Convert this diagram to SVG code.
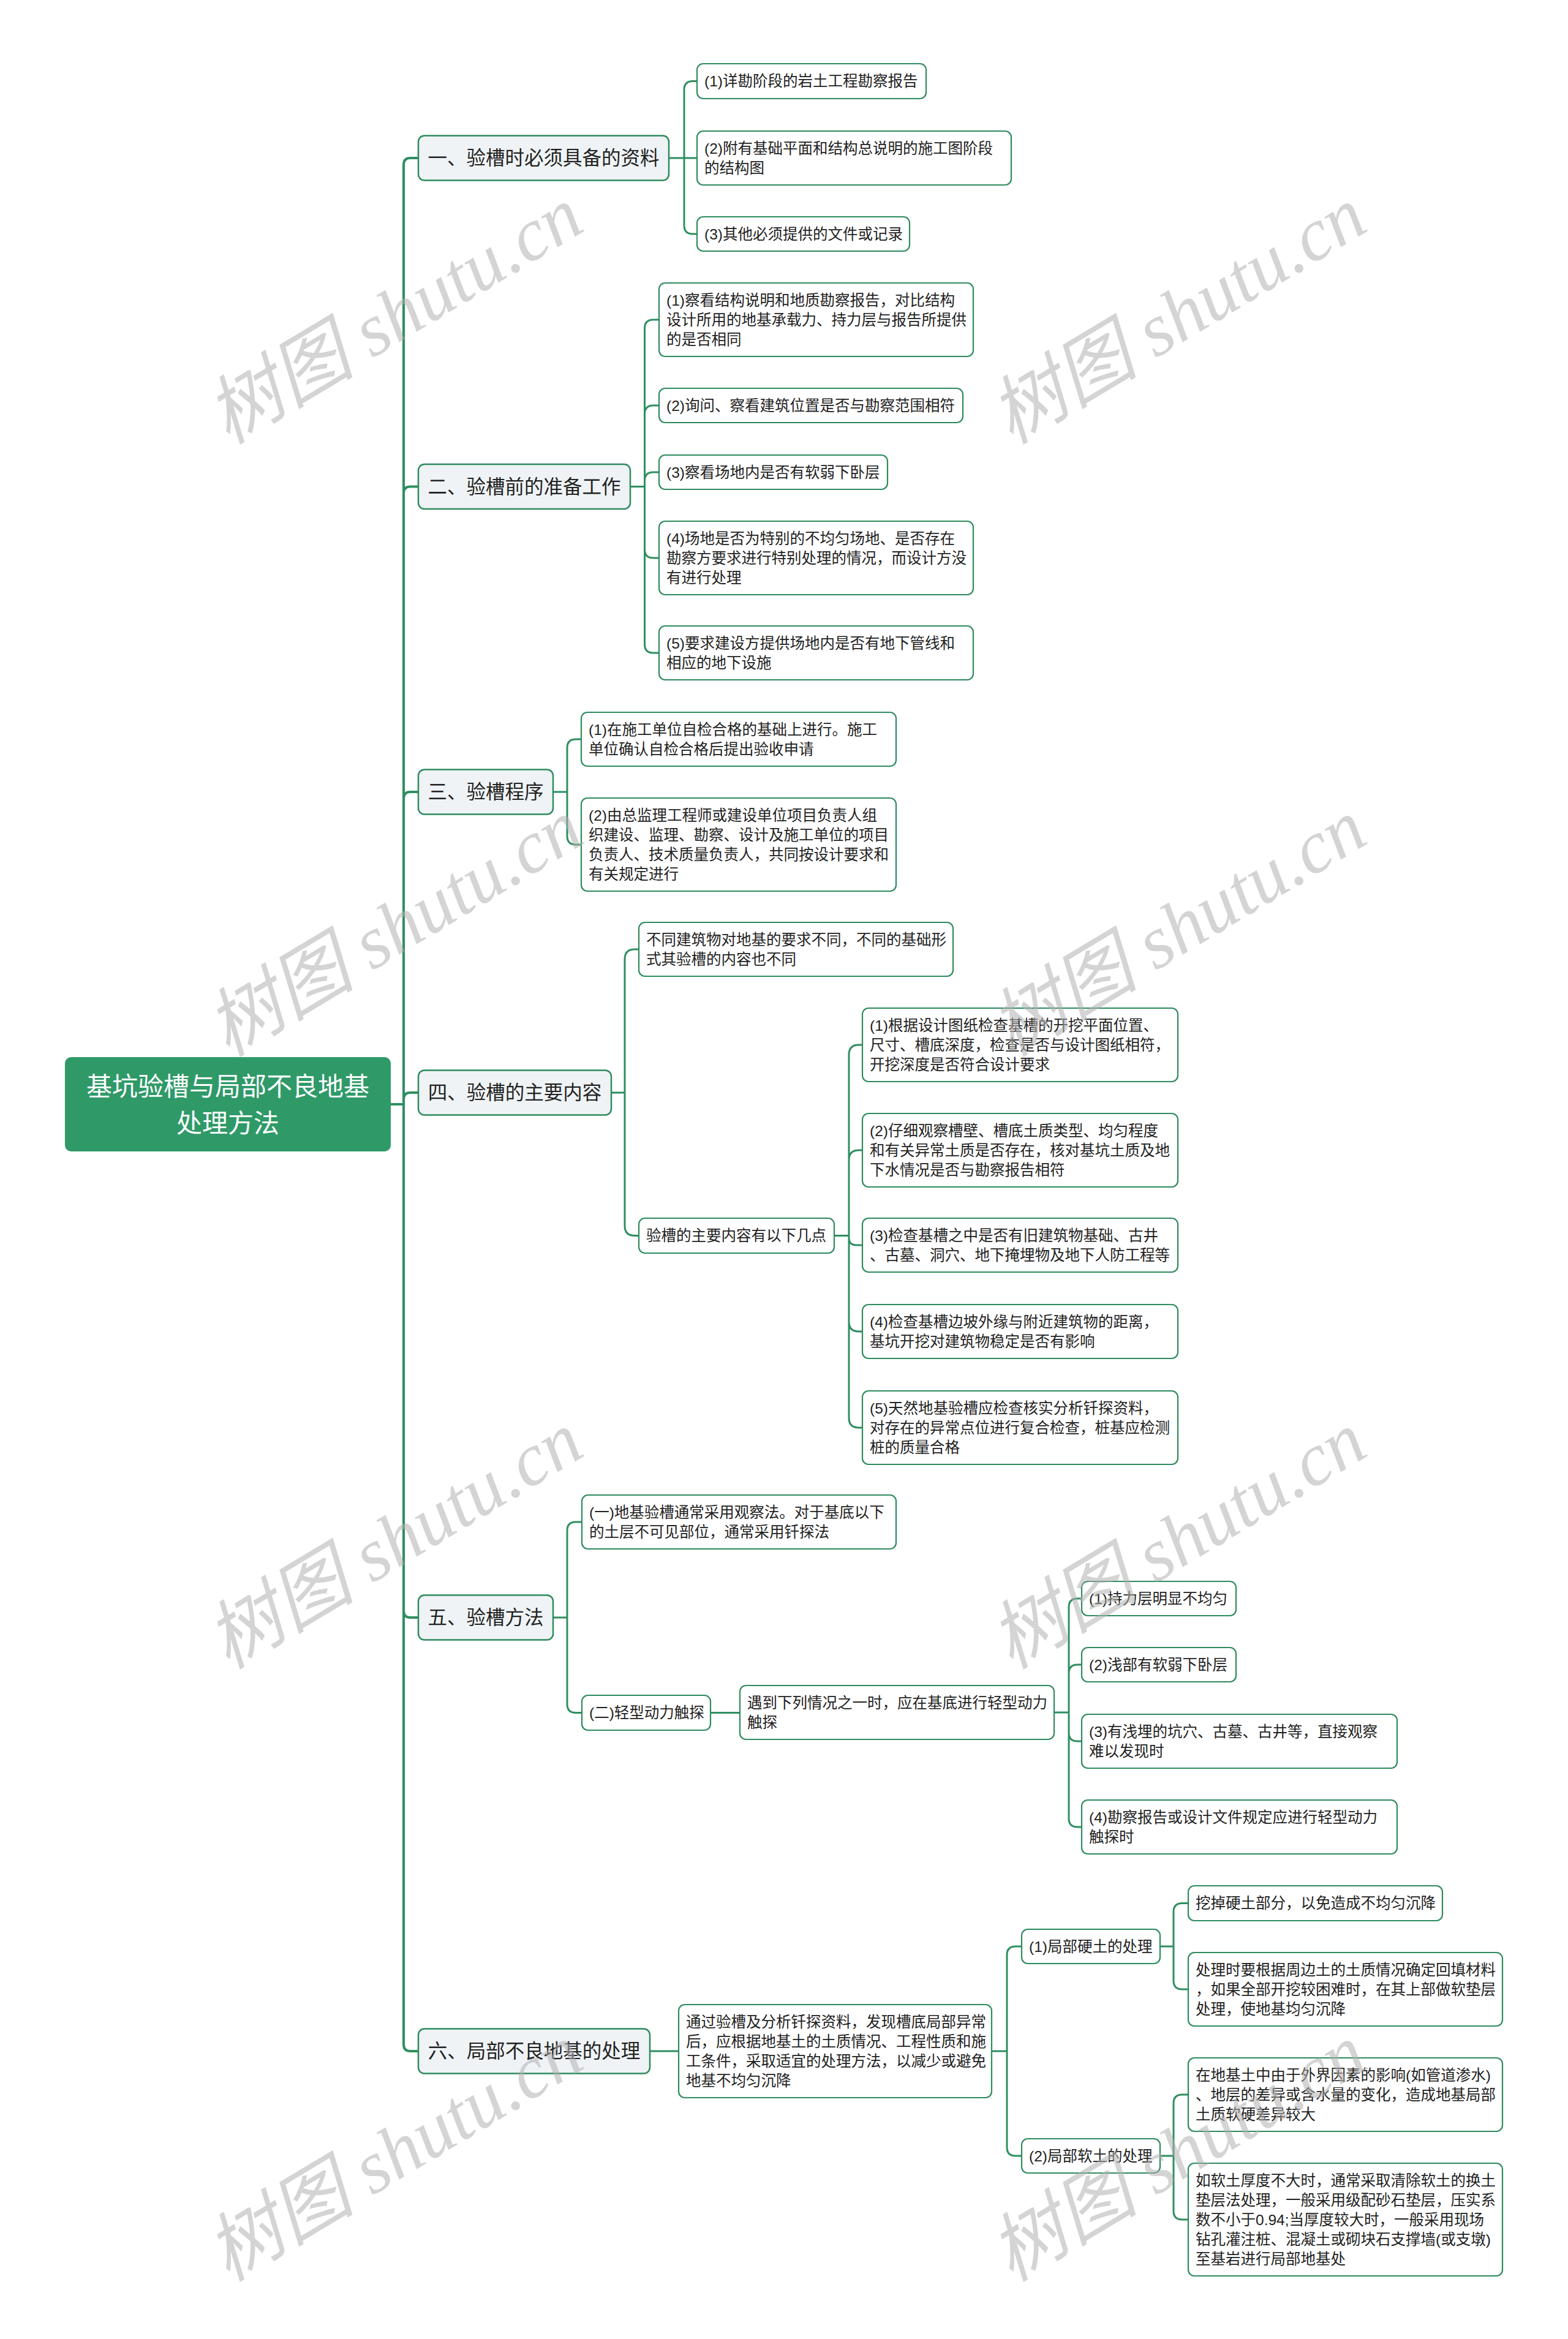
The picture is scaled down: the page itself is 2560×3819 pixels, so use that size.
<svg xmlns="http://www.w3.org/2000/svg" width="2560" height="3819" viewBox="0 0 2560 3819">
<style>
.bg{fill:#ffffff}
.root{fill:#2f9a68}
.l1{fill:#eff3f5;stroke:#2e8b5e;stroke-width:2.5}
.leaf{fill:#ffffff;stroke:#2e8b5e;stroke-width:2.2}
.t{font-family:"Liberation Sans","Noto Sans CJK SC",sans-serif;font-size:24.5px;fill:#222222;dominant-baseline:central}
.t1{font-family:"Liberation Sans","Noto Sans CJK SC",sans-serif;font-size:31.5px;fill:#222222;text-anchor:middle;dominant-baseline:central}
.t0{font-family:"Liberation Sans","Noto Sans CJK SC",sans-serif;font-size:42px;fill:#ffffff;text-anchor:middle;dominant-baseline:central}
.c{fill:none;stroke:#2e8f60;stroke-width:3}
.trunk{stroke-width:4}
.wm{font-family:"Liberation Serif","Noto Sans CJK SC",serif;font-size:122px;font-style:italic;fill:#b0b0b0;fill-opacity:0.55;text-anchor:middle;dominant-baseline:central}
</style>
<rect class="bg" x="0" y="0" width="2560" height="3819"/>

<g id="connectors">
<path class="c trunk" d="M638 1803H659V269Q659 258 670 258H683 M638 1803H659V805.5Q659 794.5 670 794.5H683 M638 1803H659V1304Q659 1293 670 1293H683 M638 1803H659V1795Q659 1784 670 1784H683 M638 1803H659V2630Q659 2641 670 2641H683 M638 1803H659V3338Q659 3349 670 3349H683"/>
<path class="c" d="M1092 258H1117V146.5Q1117 132.5 1131 132.5H1138 M1092 258H1138 M1092 258H1117V368Q1117 382 1131 382H1138"/>
<path class="c" d="M1029 794.5H1052.5V536Q1052.5 522 1066.5 522H1076 M1029 794.5H1052.5V676Q1052.5 662 1066.5 662H1076 M1029 794.5H1052.5V785Q1052.5 771 1066.5 771H1076 M1029 794.5H1052.5V897Q1052.5 911 1066.5 911H1076 M1029 794.5H1052.5V1052Q1052.5 1066 1066.5 1066H1076"/>
<path class="c" d="M903 1293H926V1221Q926 1207 940 1207H949 M903 1293H926V1365Q926 1379 940 1379H949"/>
<path class="c" d="M998 1784H1020V1566Q1020 1550 1036 1550H1043 M998 1784H1020V2001.5Q1020 2017.5 1036 2017.5H1043"/>
<path class="c" d="M1362 2017.5H1386V1722Q1386 1706 1402 1706H1408 M1362 2017.5H1386V1894Q1386 1878 1402 1878H1408 M1362 2017.5H1386V2021Q1386 2033 1398 2033H1408 M1362 2017.5H1386V2158Q1386 2174 1402 2174H1408 M1362 2017.5H1386V2315Q1386 2331 1402 2331H1408"/>
<path class="c" d="M903 2641H926V2499Q926 2485 940 2485H950 M903 2641H926V2782.5Q926 2796.5 940 2796.5H950"/>
<path class="c" d="M1160 2796.5H1208"/>
<path class="c" d="M1721 2796H1745V2624Q1745 2610 1759 2610H1766 M1721 2796H1745V2732Q1745 2718 1759 2718H1766 M1721 2796H1745V2829Q1745 2843 1759 2843H1766 M1721 2796H1745V2969Q1745 2983 1759 2983H1766"/>
<path class="c" d="M1061 3349H1108"/>
<path class="c" d="M1619 3349H1644V3192Q1644 3178 1658 3178H1668 M1619 3349H1644V3506Q1644 3520 1658 3520H1668"/>
<path class="c" d="M1894 3178H1916V3121.5Q1916 3107.5 1930 3107.5H1940 M1894 3178H1916V3234Q1916 3248 1930 3248H1940"/>
<path class="c" d="M1894 3520H1916V3434Q1916 3420 1930 3420H1940 M1894 3520H1916V3610Q1916 3624 1930 3624H1940"/>
</g>

<g id="root">
<rect class="root" x="106" y="1726" width="532" height="154" rx="10"/>
<text class="t0" x="372" y="1774">基坑验槽与局部不良地基</text>
<text class="t0" x="372" y="1834">处理方法</text>
</g>

<g id="n1">
<rect class="l1" x="683" y="221.5" width="409" height="73" rx="10"/>
<text class="t1" x="887.5" y="258">一、验槽时必须具备的资料</text>
</g>
<g id="n1-1">
<rect class="leaf" x="1138" y="104" width="374" height="57" rx="10"/>
<text class="t" x="1150" y="132.5">(1)详勘阶段的岩土工程勘察报告</text>
</g>
<g id="n1-2">
<rect class="leaf" x="1138" y="214" width="513" height="88" rx="10"/>
<text class="t" x="1150" y="242">(2)附有基础平面和结构总说明的施工图阶段</text>
<text class="t" x="1150" y="274">的结构图</text>
</g>
<g id="n1-3">
<rect class="leaf" x="1138" y="354" width="347" height="56" rx="10"/>
<text class="t" x="1150" y="382">(3)其他必须提供的文件或记录</text>
</g>

<g id="n2">
<rect class="l1" x="683" y="758" width="346" height="73" rx="10"/>
<text class="t1" x="856" y="794.5">二、验槽前的准备工作</text>
</g>
<g id="n2-1">
<rect class="leaf" x="1076" y="462" width="513" height="120" rx="10"/>
<text class="t" x="1088" y="490">(1)察看结构说明和地质勘察报告，对比结构</text>
<text class="t" x="1088" y="522">设计所用的地基承载力、持力层与报告所提供</text>
<text class="t" x="1088" y="554">的是否相同</text>
</g>
<g id="n2-2">
<rect class="leaf" x="1076" y="634" width="496" height="56" rx="10"/>
<text class="t" x="1088" y="662">(2)询问、察看建筑位置是否与勘察范围相符</text>
</g>
<g id="n2-3">
<rect class="leaf" x="1076" y="743" width="373" height="56" rx="10"/>
<text class="t" x="1088" y="771">(3)察看场地内是否有软弱下卧层</text>
</g>
<g id="n2-4">
<rect class="leaf" x="1076" y="851" width="513" height="120" rx="10"/>
<text class="t" x="1088" y="879">(4)场地是否为特别的不均匀场地、是否存在</text>
<text class="t" x="1088" y="911">勘察方要求进行特别处理的情况，而设计方没</text>
<text class="t" x="1088" y="943">有进行处理</text>
</g>
<g id="n2-5">
<rect class="leaf" x="1076" y="1022" width="513" height="88" rx="10"/>
<text class="t" x="1088" y="1050">(5)要求建设方提供场地内是否有地下管线和</text>
<text class="t" x="1088" y="1082">相应的地下设施</text>
</g>

<g id="n3">
<rect class="l1" x="683" y="1256.5" width="220" height="73" rx="10"/>
<text class="t1" x="793" y="1293">三、验槽程序</text>
</g>
<g id="n3-1">
<rect class="leaf" x="949" y="1163" width="514" height="88" rx="10"/>
<text class="t" x="961" y="1191">(1)在施工单位自检合格的基础上进行。施工</text>
<text class="t" x="961" y="1223">单位确认自检合格后提出验收申请</text>
</g>
<g id="n3-2">
<rect class="leaf" x="949" y="1303" width="514" height="152" rx="10"/>
<text class="t" x="961" y="1331">(2)由总监理工程师或建设单位项目负责人组</text>
<text class="t" x="961" y="1363">织建设、监理、勘察、设计及施工单位的项目</text>
<text class="t" x="961" y="1395">负责人、技术质量负责人，共同按设计要求和</text>
<text class="t" x="961" y="1427">有关规定进行</text>
</g>

<g id="n4">
<rect class="l1" x="683" y="1747.5" width="315" height="73" rx="10"/>
<text class="t1" x="840.5" y="1784">四、验槽的主要内容</text>
</g>
<g id="n4-1">
<rect class="leaf" x="1043" y="1506" width="513" height="88" rx="10"/>
<text class="t" x="1055" y="1534">不同建筑物对地基的要求不同，不同的基础形</text>
<text class="t" x="1055" y="1566">式其验槽的内容也不同</text>
</g>
<g id="n4-2">
<rect class="leaf" x="1043" y="1989" width="319" height="57" rx="10"/>
<text class="t" x="1055" y="2017.5">验槽的主要内容有以下几点</text>
</g>
<g id="n4-2-1">
<rect class="leaf" x="1408" y="1646" width="515" height="120" rx="10"/>
<text class="t" x="1420" y="1674">(1)根据设计图纸检查基槽的开挖平面位置、</text>
<text class="t" x="1420" y="1706">尺寸、槽底深度，检查是否与设计图纸相符，</text>
<text class="t" x="1420" y="1738">开挖深度是否符合设计要求</text>
</g>
<g id="n4-2-2">
<rect class="leaf" x="1408" y="1818" width="515" height="120" rx="10"/>
<text class="t" x="1420" y="1846">(2)仔细观察槽壁、槽底土质类型、均匀程度</text>
<text class="t" x="1420" y="1878">和有关异常土质是否存在，核对基坑土质及地</text>
<text class="t" x="1420" y="1910">下水情况是否与勘察报告相符</text>
</g>
<g id="n4-2-3">
<rect class="leaf" x="1408" y="1989" width="515" height="88" rx="10"/>
<text class="t" x="1420" y="2017">(3)检查基槽之中是否有旧建筑物基础、古井</text>
<text class="t" x="1420" y="2049">、古墓、洞穴、地下掩埋物及地下人防工程等</text>
</g>
<g id="n4-2-4">
<rect class="leaf" x="1408" y="2130" width="515" height="88" rx="10"/>
<text class="t" x="1420" y="2158">(4)检查基槽边坡外缘与附近建筑物的距离，</text>
<text class="t" x="1420" y="2190">基坑开挖对建筑物稳定是否有影响</text>
</g>
<g id="n4-2-5">
<rect class="leaf" x="1408" y="2271" width="515" height="120" rx="10"/>
<text class="t" x="1420" y="2299">(5)天然地基验槽应检查核实分析钎探资料，</text>
<text class="t" x="1420" y="2331">对存在的异常点位进行复合检查，桩基应检测</text>
<text class="t" x="1420" y="2363">桩的质量合格</text>
</g>

<g id="n5">
<rect class="l1" x="683" y="2604.5" width="220" height="73" rx="10"/>
<text class="t1" x="793" y="2641">五、验槽方法</text>
</g>
<g id="n5-1">
<rect class="leaf" x="950" y="2441" width="513" height="88" rx="10"/>
<text class="t" x="962" y="2469">(一)地基验槽通常采用观察法。对于基底以下</text>
<text class="t" x="962" y="2501">的土层不可见部位，通常采用钎探法</text>
</g>
<g id="n5-2">
<rect class="leaf" x="950" y="2768" width="210" height="57" rx="10"/>
<text class="t" x="962" y="2796.5">(二)轻型动力触探</text>
</g>
<g id="n5-2-1">
<rect class="leaf" x="1208" y="2752" width="513" height="88" rx="10"/>
<text class="t" x="1220" y="2780">遇到下列情况之一时，应在基底进行轻型动力</text>
<text class="t" x="1220" y="2812">触探</text>
</g>
<g id="n5-2-1-1">
<rect class="leaf" x="1766" y="2582" width="252" height="56" rx="10"/>
<text class="t" x="1778" y="2610">(1)持力层明显不均匀</text>
</g>
<g id="n5-2-1-2">
<rect class="leaf" x="1766" y="2690" width="252" height="56" rx="10"/>
<text class="t" x="1778" y="2718">(2)浅部有软弱下卧层</text>
</g>
<g id="n5-2-1-3">
<rect class="leaf" x="1766" y="2799" width="515" height="88" rx="10"/>
<text class="t" x="1778" y="2827">(3)有浅埋的坑穴、古墓、古井等，直接观察</text>
<text class="t" x="1778" y="2859">难以发现时</text>
</g>
<g id="n5-2-1-4">
<rect class="leaf" x="1766" y="2939" width="515" height="88" rx="10"/>
<text class="t" x="1778" y="2967">(4)勘察报告或设计文件规定应进行轻型动力</text>
<text class="t" x="1778" y="2999">触探时</text>
</g>

<g id="n6">
<rect class="l1" x="683" y="3312.5" width="378" height="73" rx="10"/>
<text class="t1" x="872" y="3349">六、局部不良地基的处理</text>
</g>
<g id="n6-1">
<rect class="leaf" x="1108" y="3273" width="511" height="152" rx="10"/>
<text class="t" x="1120" y="3301">通过验槽及分析钎探资料，发现槽底局部异常</text>
<text class="t" x="1120" y="3333">后，应根据地基土的土质情况、工程性质和施</text>
<text class="t" x="1120" y="3365">工条件，采取适宜的处理方法，以减少或避免</text>
<text class="t" x="1120" y="3397">地基不均匀沉降</text>
</g>
<g id="n6-1-1">
<rect class="leaf" x="1668" y="3150" width="226" height="56" rx="10"/>
<text class="t" x="1680" y="3178">(1)局部硬土的处理</text>
</g>
<g id="n6-1-1-1">
<rect class="leaf" x="1940" y="3079" width="415" height="57" rx="10"/>
<text class="t" x="1952" y="3107.5">挖掉硬土部分，以免造成不均匀沉降</text>
</g>
<g id="n6-1-1-2">
<rect class="leaf" x="1940" y="3188" width="513" height="120" rx="10"/>
<text class="t" x="1952" y="3216">处理时要根据周边土的土质情况确定回填材料</text>
<text class="t" x="1952" y="3248">，如果全部开挖较困难时，在其上部做软垫层</text>
<text class="t" x="1952" y="3280">处理，使地基均匀沉降</text>
</g>
<g id="n6-1-2">
<rect class="leaf" x="1668" y="3492" width="226" height="56" rx="10"/>
<text class="t" x="1680" y="3520">(2)局部软土的处理</text>
</g>
<g id="n6-1-2-1">
<rect class="leaf" x="1940" y="3360" width="513" height="120" rx="10"/>
<text class="t" x="1952" y="3388">在地基土中由于外界因素的影响(如管道渗水)</text>
<text class="t" x="1952" y="3420">、地层的差异或含水量的变化，造成地基局部</text>
<text class="t" x="1952" y="3452">土质软硬差异较大</text>
</g>
<g id="n6-1-2-2">
<rect class="leaf" x="1940" y="3532" width="513" height="184" rx="10"/>
<text class="t" x="1952" y="3560">如软土厚度不大时，通常采取清除软土的换土</text>
<text class="t" x="1952" y="3592">垫层法处理，一般采用级配砂石垫层，压实系</text>
<text class="t" x="1952" y="3624">数不小于0.94;当厚度较大时，一般采用现场</text>
<text class="t" x="1952" y="3656">钻孔灌注桩、混凝土或砌块石支撑墙(或支墩)</text>
<text class="t" x="1952" y="3688">至基岩进行局部地基处</text>
</g>

<g id="watermarks">
<text class="wm" transform="translate(644 515) rotate(-31)">树图 shutu.cn</text>
<text class="wm" transform="translate(1923 515) rotate(-31)">树图 shutu.cn</text>
<text class="wm" transform="translate(644 1515) rotate(-31)">树图 shutu.cn</text>
<text class="wm" transform="translate(1923 1515) rotate(-31)">树图 shutu.cn</text>
<text class="wm" transform="translate(644 2515) rotate(-31)">树图 shutu.cn</text>
<text class="wm" transform="translate(1923 2515) rotate(-31)">树图 shutu.cn</text>
<text class="wm" transform="translate(644 3515) rotate(-31)">树图 shutu.cn</text>
<text class="wm" transform="translate(1923 3515) rotate(-31)">树图 shutu.cn</text>
</g>
</svg>
